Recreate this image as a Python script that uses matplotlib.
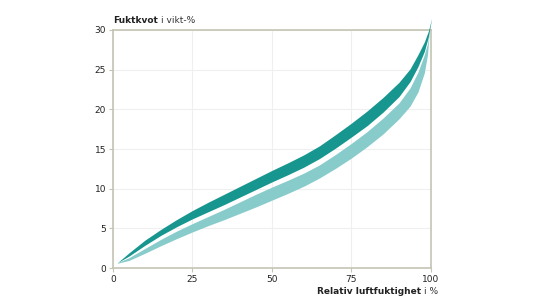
import matplotlib
matplotlib.use('Agg')
import matplotlib.pyplot as plt

# Relativ luftfuktighet (%) och fuktkvot (vikt-%)
rh_des = [1.4, 5, 10, 15, 20, 25, 30, 35, 40, 45, 50, 55, 60, 65, 70, 75, 80, 85, 90, 93.5, 96, 98, 99.3, 100.3]
des_upper = [0.67, 1.9, 3.5, 4.85, 6.1, 7.25, 8.3, 9.3, 10.3, 11.3, 12.3, 13.25, 14.25, 15.4, 16.8, 18.25, 19.8, 21.5, 23.4, 25.1, 26.9, 28.5, 29.9, 31.5]
des_lower = [0.67, 1.5, 2.85, 4.1, 5.2, 6.2, 7.1, 8.0, 8.95, 9.9, 10.85, 11.75, 12.7, 13.8, 15.1, 16.5, 17.95, 19.65, 21.6, 23.5, 25.4, 27.3, 29.2, 31.5]

rh_abs = [1.4, 5, 10, 15, 20, 25, 30, 35, 40, 45, 50, 55, 60, 65, 70, 75, 80, 85, 90, 93.5, 96, 98, 99, 99.6]
abs_upper = [0.67, 1.3, 2.45, 3.6, 4.65, 5.6, 6.5, 7.4, 8.35, 9.3, 10.2, 11.05, 11.95, 13.0, 14.3, 15.7, 17.2, 18.9, 20.8, 22.7, 24.7, 26.9, 28.3, 30.0]
abs_lower = [0.6, 0.95, 1.85, 2.8, 3.7, 4.55, 5.35, 6.1, 6.9, 7.7, 8.55, 9.4, 10.3, 11.35, 12.55, 13.85, 15.3, 16.9, 18.8, 20.4, 22.2, 24.6, 26.9, 30.0]

xticks = [0, 25, 50, 75, 100]
yticks = [0, 5, 10, 15, 20, 25, 30]

dark = '#17968f'
light = '#88cbcb'
frame = '#c4c4b4'
fs = 6.5

fig = plt.figure(figsize=(5.41, 3.03), dpi=100)
ax = fig.add_axes([0.2089, 0.1155, 0.5872, 0.7855])

ax.fill_between(rh_abs, abs_lower, abs_upper, color=light, lw=0, clip_on=False, zorder=2)
ax.fill_between(rh_des, des_lower, des_upper, color=dark, lw=0, clip_on=False, zorder=3)

ax.set_xlim(0, 100)
ax.set_ylim(0, 30)
ax.set_xticks(xticks)
ax.set_yticks(yticks)
ax.grid(True, color='#efefef', lw=0.8)
ax.set_axisbelow(True)
for s in ax.spines.values():
    s.set_color(frame)
    s.set_linewidth(1.2)
ax.tick_params(length=3, color=frame, labelsize=fs, labelcolor='#222222', pad=2)

fig.canvas.draw()
r = fig.canvas.get_renderer()

# titel: fet + normal
t1 = fig.text(0.2089, 0.925, 'Fuktkvot', fontsize=fs, fontweight='bold', color='#222222', va='baseline')
bb = t1.get_window_extent(r)
fig.text(bb.x1 / fig.bbox.width + 0.005, 0.925, 'i vikt-%', fontsize=fs, color='#333333', va='baseline')

# x-etikett högerjusterad vid 100
t2 = fig.text(0.81, 0.03, 'i %', fontsize=fs, color='#333333', ha='right', va='baseline')
bb2 = t2.get_window_extent(r)
fig.text(bb2.x0 / fig.bbox.width - 0.005, 0.03, 'Relativ luftfuktighet', fontsize=fs,
         fontweight='bold', color='#222222', ha='right', va='baseline')

fig.savefig('out.png', dpi=100)
